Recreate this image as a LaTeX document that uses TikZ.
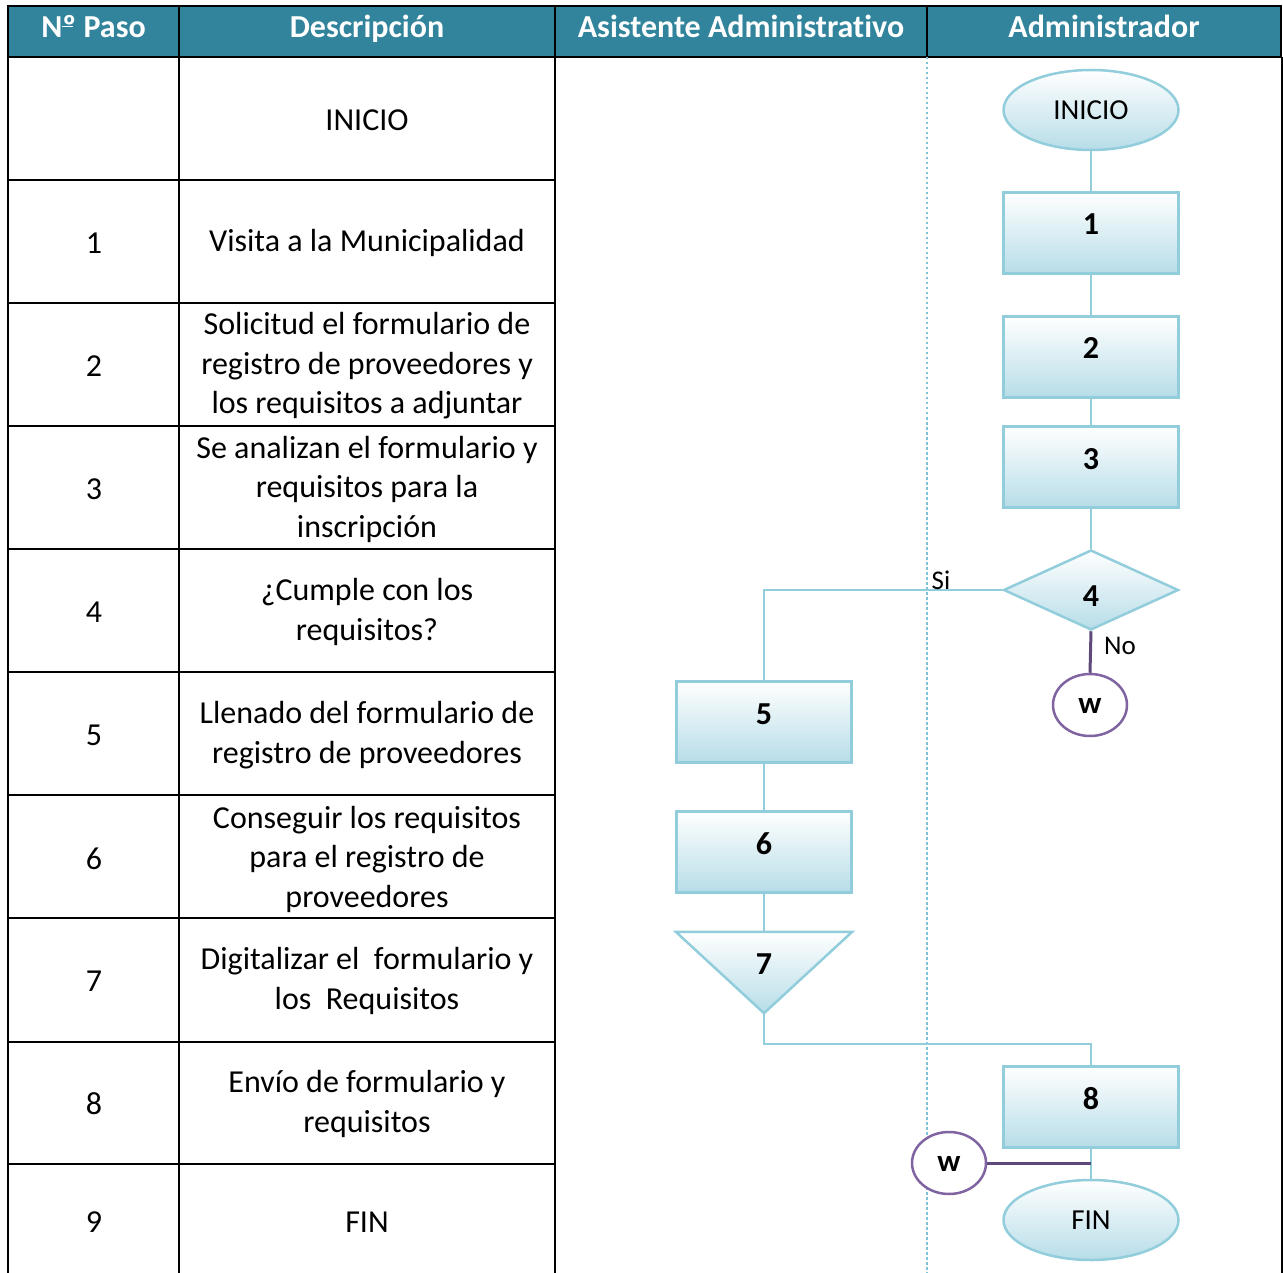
\documentclass[tikz,border=0pt]{standalone}
\usepackage{fontspec}
\setmainfont{Carlito}[Ligatures={NoCommon}]
\usepackage{tikz}
\usetikzlibrary{shapes.geometric,positioning,calc}
\definecolor{headteal}{HTML}{31849B}
\definecolor{shapeline}{HTML}{92CDDC}
\definecolor{shapefill}{HTML}{B7DDE8}
\definecolor{laneline}{HTML}{7CC4D8}
\definecolor{connpurple}{HTML}{8064A2}
\definecolor{linkpurple}{HTML}{5F497A}
\newcommand{\numsign}{N\makebox[0pt][l]{\rule[0.33em]{0.34em}{0.06em}}º}
\tikzset{
  head/.style   = {font=\fontsize{32}{38}\selectfont\bfseries, text=white,
                   text height=23pt, text depth=7pt},
  cell/.style   = {font=\fontsize{32}{39.5}\selectfont, align=center},
  grid/.style   = {line width=2.2pt, black},
  proc/.style   = {rectangle, draw=shapeline, line width=2.5pt,
                   top color=white, bottom color=shapefill,
                   minimum width=175pt, minimum height=81pt, inner sep=0pt,
                   text height=22pt, text depth=18pt,
                   font=\fontsize{32}{38}\selectfont\bfseries},
  term/.style   = {ellipse, draw=shapeline, line width=2.5pt,
                   top color=white, bottom color=shapefill,
                   minimum width=175pt, minimum height=80pt, inner sep=0pt,
                   font=\fontsize{29}{34}\selectfont},
  decide/.style = {diamond, draw=shapeline, line width=2.5pt,
                   top color=white, bottom color=shapefill, aspect=2.19,
                   minimum width=175pt, minimum height=80pt, inner sep=0pt,
                   text height=32pt, text depth=0pt,
                   font=\fontsize{32}{38}\selectfont\bfseries},
  merge/.style  = {rectangle, minimum width=176pt, minimum height=81pt,
                   inner sep=0pt, text height=22pt, text depth=19pt,
                   font=\fontsize{32}{38}\selectfont\bfseries},
  conn/.style   = {ellipse, draw=connpurple, line width=2.5pt, fill=white,
                   minimum width=74pt, minimum height=62pt, inner sep=0pt,
                   text height=16pt, text depth=0pt,
                   font=\fontsize{31}{36}\selectfont\bfseries},
  flow/.style   = {draw=shapeline, line width=2.5pt},
  link/.style   = {draw=linkpurple, line width=3pt},
  tag/.style    = {font=\fontsize{27}{32}\selectfont},
}
\begin{document}
\begin{tikzpicture}[x=1pt, y=-1pt]
\useasboundingbox (0,0) rectangle (1283,1273);

%% ── Header ────────────────────────────────────────────────────────────────
\fill[headteal] (8,6) rectangle (1281,57);
\node[head] (hPaso)  at (93.5,30) {\numsign\ Paso};
\node[head] (hDesc)  at (367,30)  {Descripción};
\node[head] (hAsist) at (741,30)  {Asistente Administrativo};
\node[head] (hAdmin) at (1104,30) {Administrador};

%% ── Table grid ────────────────────────────────────────────────────────────
\draw[grid] (8,6) rectangle (1281,57);
\draw[grid] (927,6) -- (927,57);
\foreach \gx in {8,179,555} \draw[grid] (\gx,6) -- (\gx,1273);
\draw[line width=1.6pt] (1282,57) -- (1282,1273);
\foreach \gy in {180,303,426,549,672,795,918,1042,1164}
  \draw[grid] (8,\gy) -- (555,\gy);
\draw[laneline, line width=1.1pt, dash pattern=on 2.5pt off 2.5pt]
  (927,57) -- (927,1273);

%% ── Steps and descriptions ────────────────────────────────────────────────
\node[cell] (d0) at (367,120) {INICIO};
\foreach \n/\yy/\txt in {
    1/243/{Visita a la Municipalidad},
    2/366/{Solicitud el formulario de\\registro de proveedores y\\los requisitos a adjuntar},
    3/489/{Se analizan el formulario y\\requisitos para la\\inscripción},
    4/612/{¿Cumple con los\\requisitos?},
    5/735/{Llenado del formulario de\\registro de proveedores},
    6/859/{Conseguir los requisitos\\para el registro de\\proveedores},
    7/981/{Digitalizar el\ \ formulario y\\los\ \ Requisitos},
    8/1104/{Envío de formulario y\\requisitos},
    9/1222/{FIN}}{
  \node[cell] (n\n) at (94,\yy) {\n};
  \node[cell] (d\n) at (367,\yy) {\txt};
}

%% ── Flow: Administrador ───────────────────────────────────────────────────
\node[term]   (ini) at (1091,110)  {INICIO};
\node[proc]   (s1)  at (1091,233)  {1};
\node[proc]   (s2)  at (1091,357)  {2};
\node[proc]   (s3)  at (1091,467)  {3};
\node[decide] (s4)  at (1091,590)  {4};
\node[conn]   (w1)  at (1090,705)  {w};
\node[proc]   (s8)  at (1091,1107) {8};
\node[term]   (fin) at (1091,1220) {FIN};
\node[conn]   (w2)  at (949,1163)  {w};

%% ── Flow: Asistente Administrativo ────────────────────────────────────────
\node[proc]  (s5) at (764,722) {5};
\node[proc]  (s6) at (764,852) {6};
\node[merge] (s7) at (764,972.5) {};
\shade[top color=white, bottom color=shapefill]
  (s7.north west) -- (s7.north east) -- (s7.south) -- cycle;
\draw[flow, line join=miter]
  (s7.north west) -- (s7.north east) -- (s7.south) -- cycle;
\node[merge] (l7) at (s7) {7};

%% ── Connectors ────────────────────────────────────────────────────────────
\draw[flow] (ini) -- (s1);
\draw[flow] (s1) -- (s2);
\draw[flow] (s2) -- (s3);
\draw[flow] (s3) -- (s4);
\draw[flow] (s4.west) -| (s5.north);
\draw[flow] (s5) -- (s6);
\draw[flow] (s6) -- (s7.north);
\draw[flow] (s7.south) -- ++(0,31) -| (s8.north);
\draw[flow] (s8) -- (fin);
\draw[link] (s4.south) -- (w1.north);
\draw[link] (w2.east) -- (w2.east -| s8.south);

%% ── Branch labels ─────────────────────────────────────────────────────────
\node[tag] (lSi) at (941,580) {Si};
\node[tag] (lNo) at (1120,646) {No};

\end{tikzpicture}
\end{document}
